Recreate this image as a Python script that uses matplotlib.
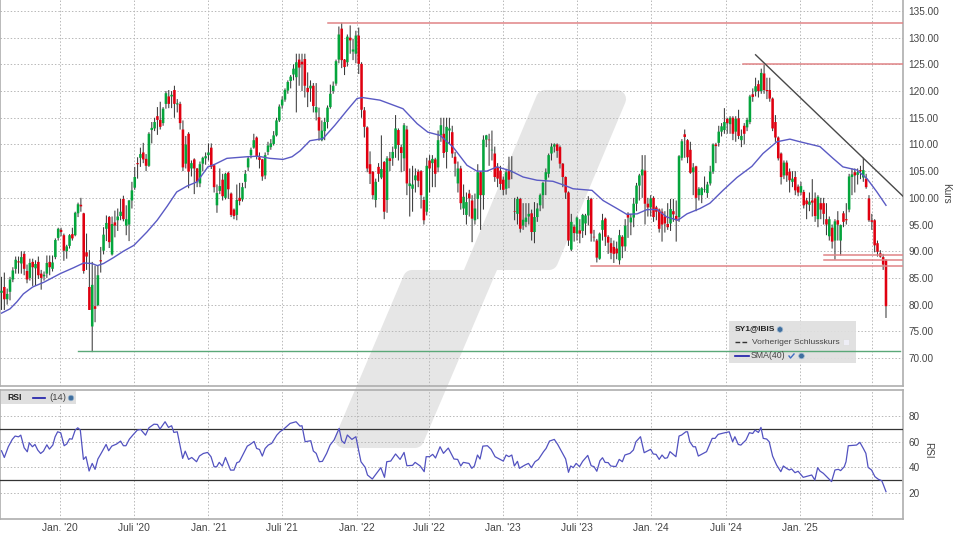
import matplotlib
matplotlib.use('Agg')
import matplotlib.pyplot as plt
from matplotlib.patches import Polygon, Rectangle, Circle

plt.rcParams['font.family'] = ['Liberation Sans', 'DejaVu Sans']

opens = [
 82.2,83.3,81.0,82.4,84.7,86.7,88.1,87.7,89.5,86.3,
 85,88,86.8,88,85.8,85.3,85.8,88,86.7,88.9,
 92.5,94,93,90,91,93.2,93,97.1,98.7,97.1,
 89.8,83.3,75.9,79.7,79.9,88.3,90.1,94.2,96.4,89.4,
 95.4,95.8,96.6,99.8,94.8,95,99.5,101.9,106.5,107.5,
 108.5,107.3,106,112.7,113,115.3,114.6,114,117.6,119,
 119,120.2,117.5,117.6,112.8,106.4,112,105.5,107.2,105.5,
 102.7,106.4,107.4,108,109.4,106.1,98.6,101.3,103.4,100,
 104.7,100.8,97.8,96.8,100,99.7,103,105.7,108,109.4,
 111.3,107.6,107.2,104.2,108.6,109.5,110.1,111.7,114.5,117.3,
 118.4,120.1,121.9,123.1,122.6,125.9,125.5,126,120.6,120.5,
 121,116,115.1,110.8,112.5,114.2,117,120,121.4,125.9,
 131.7,125.9,125.4,130,127.4,127,130.4,125.1,116.4,113.2,
 106.3,104.9,99.6,105.8,103.8,106.7,99.6,107.4,107.4,109.2,
 112.7,109.5,107.4,112.8,102.2,101.7,103.3,104.9,105,99.6,
 97.4,107,106.5,107.2,105.7,111.7,112,108.6,112.6,112.3,
 107.7,102.7,105.5,98,96.8,100.8,99.5,95.8,99.8,104.8,
 100.5,110.9,110.9,108.9,108.3,105.8,105.1,103.4,101.7,105,
 104.8,97.5,97,99.8,94.8,95.5,96.5,97.1,93.6,96.4,
 98.6,100.5,103.4,104.5,108.3,109.6,110,109.5,106.4,103.9,
 101,90.3,94.6,93.3,93.9,93.8,95.2,96.7,99.8,92.7,
 92,88.6,94,96.1,92.7,91.5,90.8,90.5,88.3,92.7,
 90.9,97,95.4,96.3,98.9,102.3,104.2,105.1,98.9,98.2,
 100,98.2,97.8,97.4,96.5,95.1,95.2,97.5,96.6,96.4,
 107.5,111.9,110.8,109,104.8,105.9,100.5,100.5,101.5,100.9,
 102.7,104.9,110,110.3,112.4,112.7,114.8,113.8,115,112.4,
 114.9,110.8,113.5,113.2,114.2,119.4,119.9,121.3,120,123.3,
 120.2,120.2,118.6,114.2,111.3,108.3,104.2,106.6,104.9,103,
 103.9,102.1,101,101.1,99.5,98.7,99.5,99.9,96,99,
 99,96,92.8,94.4,92,95.8,92,97.1,96,97.8,
 103.9,104.8,104.3,105.2,103.8,103.6,99.9,95.8,95.8,91.5,
 89.6,88.9,88.3]

closes = [
 82.6,81,82,84.7,86.4,88.4,87.9,88.9,86.7,84.7,
 87.8,87,87.6,85.5,85,85.6,87.8,87,87.9,92.1,
 94.2,93.6,90.1,90.9,93,92.4,97.2,98.8,98.4,86.3,
 89,79,83.7,79.2,85.5,88.1,93.1,95.3,91.7,95.1,
 94.8,96.5,97.4,96,96,99.5,101.4,103.9,106.3,108.2,
 107.2,106,112,113.1,114.2,114.6,113.3,116.7,119.6,117.6,
 119.3,117.6,117.7,114,105.7,110,104.9,106.5,105.5,103,
 106.3,107.5,107.8,108.5,105.8,102,100.9,102.2,100.3,104.5,
 101.6,96.8,96.6,99.6,99.4,102,104.5,107.4,109,110.8,
 107.7,107.1,104,108,109.8,110.2,111.7,114.5,117.1,118.4,
 120.2,121.7,122.7,124.2,125.4,124.4,125,121,119.8,121,
 117.2,117,112.6,112.6,114.2,116.9,119.5,121,125.6,130.6,
 125.8,124.5,130.2,129.5,127.8,130.4,125.1,116.5,113.3,105.5,
 104.5,100.5,103,104.5,105.4,97.4,107.4,106.9,108.6,113,
 109.9,108.4,113.6,102.7,102.7,102.5,104.2,103.2,100.5,95.8,
 106,105.5,107.3,104.5,110.8,113.6,108.4,113.3,113,108.3,
 106.4,105.5,99,100.2,99.2,99.9,96.1,98,104.8,100.5,
 110.9,111.7,110.8,109,103.9,103.6,102.6,101.5,104.8,103.4,
 105,97.4,99.8,94.2,95.9,96.3,97,93.6,96.4,98,
 100.5,102.8,104.8,108,109.6,110,108.8,106.4,103.9,101,
 92,95.5,93.4,96.3,93.3,96.8,96.7,99.6,93.3,92.6,
 88.8,93.3,95.8,92.7,91.6,89.7,89.5,89.6,93,90.9,
 94.8,96.3,96.3,98.9,102.3,104.2,105.3,98.9,98.2,99.9,
 96.4,97.4,94.2,95,95.2,94.5,97.9,96.9,95.8,107.8,
 110.6,111.4,107.6,104.7,105.7,100,101.7,101.8,101.6,102.5,
 104.9,110,109.7,112.4,113.4,114.2,114,115,112,114.8,
 111.6,111.6,112,114.6,119,118.9,120.9,120,123.4,120.2,
 120,118.6,113,111.3,107.4,103.9,106.6,104.2,103.3,103.6,
 101.4,101,102.2,98.6,98.8,99.3,99.1,96.6,100.2,97.8,
 97,95,96,91.8,95.6,95,94.9,95.5,95.8,104,
 104.4,104.2,104.8,105,105.2,102,95.8,95.5,91.1,89.9,
 89,87.5,79.7]

highs = [
 85.2,86,83,85.2,87,89,89,90,90,87.5,
 88.6,88.6,88.3,89,86.5,86.2,89.2,89.2,89.2,92.4,
 94.4,94.4,93.3,91.2,93.2,94.4,97.4,99.1,100,97.2,
 93.3,90.2,88,87.3,87.3,90.8,94.5,96.7,96.6,96.5,
 97.6,98,99.8,100.4,98.6,99.6,103,105.8,107.6,109.4,
 110.3,108.2,112.3,114.2,115,117,118,117,120,120.2,
 120,121,118.5,118,114.5,111.6,112.3,107,107.4,105.6,
 106.8,107.7,108.5,110.2,110.2,106.3,102.5,105.5,104.5,104.7,
 104.9,101,98,102.5,102.8,102.8,105.2,107.8,109.4,112,
 111.5,108.5,107.3,108.5,110.5,111,112.5,115,117.5,119,
 120.5,122,123,125,127,127,127,127,123.5,122,
 121.5,121.5,116.9,114.5,115,117.3,121.2,121.8,125.9,132.1,
 132.8,126,130.6,132.3,129.8,131.3,131.9,125.4,117,113.4,
 108.7,105,103.6,106.5,111.7,106.9,107.8,108.6,109.6,115.5,
 113,110,114,113.5,105.5,106,105.5,105.3,105.2,100.2,
 107.5,108,108,107.5,112.6,115,115,115,115,113.5,
 108.6,106.8,106,102.5,101,101.5,100.5,100.8,106.3,105,
 111.7,111.8,112,112.6,109.6,106.5,106,104,105.2,107.7,
 107.8,100,100.2,100,99,99,99,97.8,99.2,99,
 100.8,103,105.5,108.3,110.2,110.2,110.2,109.8,106.5,104,
 101.2,97,95,96.5,96,97,97,100.3,100,94,
 92.3,93.5,97,96.3,93,92.5,92,91.8,94,93,
 96,97.3,97,100,102.8,104.5,108,108,100,100.5,
 100.3,98.5,98,98,97.5,99,99.8,99.8,99.5,108,
 111,112.8,111,110.5,106.5,106,102,102,104,103,
 106,110.2,110.3,113.5,114,116.8,115,115.3,115.3,115.3,
 116.5,112.8,114,115,119.3,120.5,122.5,122,124.2,125,
 122.5,122.5,118.8,115.5,111.5,108.5,107,107,105.5,105,
 105,102.5,103,101.5,100,101,103.5,101,100.5,100,
 100,99,96.5,95,96,97.5,95,97.5,99,104.5,
 105.5,105.5,105.5,106,107.5,104.5,100.5,97,96,92,
 90.2,89.5,88.5]

lows = [
 79,79,80,80.8,84.2,85.8,85.8,85.8,85.5,84,
 84.5,83.5,83.5,84.8,82.8,84.5,85,85.5,86.2,88.5,
 92,92.8,88.2,88.6,90.5,92,92.8,96.4,97.4,85.8,
 86.5,79,71.1,76.7,79.7,86,89.4,91.9,90.6,89.2,
 92.6,93.8,95.8,95.6,93,91.9,98,101.5,103.6,105.8,
 106.5,105,105.8,110.2,112.5,111.8,112.8,113.5,116.7,116.8,
 116.8,115,116,112.8,105,105.5,101.8,104,100.7,102,
 102,105,106.2,107,105.4,101,97.2,100.7,99.5,99.7,
 99.8,96.4,96,95.8,98.6,99.3,101.8,105,107.4,109.2,
 107.2,105.5,103.2,103.5,108,109,109.8,111.5,114.2,116.7,
 118,119.5,120.5,122,116,121,120,118.8,117,118,
 116,114.5,110.7,110.6,110.8,113,116.7,119.5,121,125.2,
 124.3,123,124.6,127,125.8,125.2,123.2,115,111.3,104.8,
 102.6,99.7,98.2,103,103.5,96,97.2,105,106,107.5,
 107,104.8,105,100.5,96.5,97.4,101,102,98,95,
 96.7,101,102,102,104.8,110.5,107.5,105.5,110,107.5,
 104,101,97.8,96.8,95,96.5,91.7,95,96,94,
 97.8,109.5,106,107,103,102,101.5,100.5,100.6,101.8,
 103.5,95.8,95,93.5,94,94.5,95,92,91.5,95.5,
 97.5,98,100.5,103.8,107,108.5,107.5,105.5,102,99.8,
 91,90,91.8,92,91.5,92.5,93,94.8,91.8,91.8,
 87.9,88.4,92,91,89.5,88.5,87.8,88.5,87.5,88.7,
 90,92.5,93,94.5,97.5,99.5,100,95,96.5,96.5,
 95.5,95.8,93.5,91.8,93.5,94,93.8,95.5,91.8,95.5,
 107,107.5,106.5,104.5,100.5,97.5,99.5,99,101,100,
 102.3,104.5,106.5,109.6,111.5,112,112,112,110.8,110.5,
 111,109.5,110,112.5,113.8,118,119,118.8,119.5,119.5,
 118.5,118,112.5,110.5,107,102.5,103.5,103,101,102,
 100.5,100.3,100.5,98,96,97.5,96.5,95.5,94.5,96,
 95,93,92,90.5,88.4,92,89.2,94.5,95,97.3,
 100.5,101,102.5,103.5,103,101.7,95.5,94,89.8,89,
 88.8,86.5,77.5]

sma_weeks = [0,3,5.4,7.7,11,15,20.7,25.4,29,31.9,33.8,36,39.5,43,46.7,51.3,54.9,58.4,61.8,65.4,69,72.8,75.3,
 79.5,86.6,90.5,94.7,99.3,102.5,105.3,108.8,113.4,117.6,121.9,125.4,127.2,133.5,141.6,146.6,150.4,154.7,
 159.3,164.2,167.7,171.2,174.8,179.4,184,188.9,194.5,198.8,201.6,208.3,212.2,217.1,220.6,224.2,227.7,
 231.2,234.7,238.6,241.8,246.4,249.9,254.5,259.4,264.7,268.6,273.5,278.1,281.7,288.7,293.3,296.8,301.8,
 305.3,308.8,312]
sma_values = [78.4,79.2,80.5,82,83.3,84.2,85.8,86.9,87.8,87.7,87.3,87.7,88.8,90,91.1,93.6,95.8,98.4,101.1,102.2,
 103,105.8,106.3,107.4,107.7,107.8,107.4,107.2,107.7,108.8,110.7,111.1,113.6,116.4,118.6,118.8,118.3,116.7,
 113.9,112.3,111.7,109.5,106.1,105,105,105.8,105.1,103.9,103.3,103.1,102.3,101.7,101.4,99.5,98,96.9,97,97.8,
 97.8,96.4,95.8,97,98,99,101.4,103.8,105.9,108.3,110.5,111,110.5,109.6,107.4,105.8,105.2,103.6,101.1,98.6]

rsi_weeks = [0,1,2.4,3.8,4.8,6,6.8,8,9.1,9.8,10.9,11.8,12.8,13.8,14.8,16,16.9,18.1,18.9,19.8,20.9,22.1,23,24,24.9,
 26,26.9,27.8,28.9,29.8,30.9,32,33,34,35,36.9,37.8,38.9,40.6,42,43,43.9,45.1,46.5,47.9,49.1,50.8,52,53.8,55,
 55.9,57.7,58.9,60,60.8,62,63.9,64.8,66,67.1,68.8,69.8,71.2,72.7,73.9,75,75.9,76.8,77.9,79,80.8,82,83,83.9,
 86.7,87.7,89.1,90,91,92,93,94.1,95.3,97.1,98.2,99.4,101.8,103.9,105.3,106,107.1,109.1,110,111,112.1,113.2,
 114.7,115.9,117.3,119.1,120,121,122,123.6,125,126.8,128.3,129.1,130.8,133.8,135.1,135.9,137.3,139,140.6,142,
 143,145,145.9,147.7,149.1,149.8,151,152.1,153.1,154.7,155.9,157.6,159.6,160.9,162,162.9,164.9,165.9,166.8,
 167.9,168.8,169.8,171.4,172.7,174.1,177,178,179,180,180.9,182,182.7,184.7,185.9,186.9,188.2,189.4,191.2,
 192.1,193.3,195,196.2,197.6,199,200,200.8,201.7,202.7,203.9,205,206.8,208,209,210,211.1,212,212.9,214,214.9,
 216.7,217.9,219,219.9,221.7,222.9,223.8,225.4,226.7,229,229.9,230.9,232,233,234,234.9,235.8,237.9,239,239.9,
 241.4,242,242.8,244,244.8,245.8,248.7,250.7,251.7,252.8,254.6,256.7,257.9,258.7,259.9,260.8,262.6,263.8,265,
 265.8,267,267.9,268.7,269.9,270.8,272,273.4,274.9,275.8,276.9,277.9,278.7,279.9,281,282.8,285.8,286.9,287.9,
 288.7,289.9,292.8,294,295.2,296,297.3,297.9,298.7,301.6,302.8,304,304.9,305.7,306.9,308.1,309.3,310.5,311.1,312]
rsi_values = [52.9,47.7,56,61.7,64.3,63.7,65,55.2,52.1,59.1,56,57.8,53.4,50.8,52.6,57.5,54.2,57.3,63.7,67.6,66.8,56.8,
 58.1,62.2,61.9,68.9,70.7,68.9,46.2,48.3,37.2,43.1,38.5,46.5,50.3,57.8,52.9,56.5,58.1,60.4,56.8,56.8,61.9,65.5,
 68.9,69.4,65,70.7,73.5,73.3,69.7,75.4,71,72.3,67.1,67.6,47,52.6,46.2,47.7,44.4,48.8,50.8,51.6,48.3,40.5,40.5,
 43.9,41,47.7,37.9,37.9,43.6,44.4,56.5,57.8,60.1,54.7,53.9,48.8,54.7,57.3,58.6,65,67.6,69.4,74.1,75.4,72,72.3,
 59.9,60.7,52.7,50.9,44.4,44.7,50.9,57.3,61.2,70.2,60.7,58.6,65.1,61.7,63.8,44.4,40,34.1,31,39.8,32.3,44.4,44.9,
 50.4,46.2,51.6,41.3,41.6,43.9,41.1,36.7,48.3,48.3,50.1,47.3,56,50.9,55,46.5,46.2,41.1,43.9,43.1,39.3,41.1,49.6,
 46.5,56.5,56.8,54,48.3,44.9,49.6,48.3,49.6,41.1,44.7,39.3,41.9,43.1,39.8,44.4,46.2,52.2,54.7,60.4,61.7,57.8,52.2,
 46.5,36.2,41.1,39.8,43.1,40.6,44.7,49.3,41.3,40.6,37,45.2,47.5,43.9,43.7,41.1,40.6,46.2,44.4,49.6,50.9,53.5,59.9,
 63.8,51.4,54,50.4,50.1,46.2,49.6,47,47.5,52.2,48.3,64.3,65.1,67.6,67.6,59.9,56,56,48.8,52.2,62.5,62.5,65.6,66.6,
 67.6,59.9,63.8,57.8,57.3,61.2,66.9,66.3,68.9,67.1,71,62.5,62,59.9,48.8,41.9,36.7,41.1,39.3,38,38.8,35.9,37,32.3,
 34.1,30.2,39.8,37.2,35.4,29,38,38.5,37.5,40.6,44.4,56.8,57.3,59.4,54.7,50.9,40,38,32.8,30.8,29.7,26.4,21.2]

tick_weeks = [20.7,46.6,73,98.8,125.3,150.9,177,203.1,229.2,255.5,281.7,307.2]
tick_labels = ["Jan. '20","Juli '20","Jan. '21","Juli '21","Jan. '22","Juli '22","Jan. '23","Juli '23",
               "Jan. '24","Juli '24","Jan. '25",""]
price_ticks = [70,75,80,85,90,95,100,105,110,115,120,125,130,135]
rsi_ticks = [20,40,60,80]

level_values = [132.8,125,87.2,89.2,88.4]
level_starts = [115.2,261.5,207.8,290.2,290.2]
floor_value = 71.25
floor_start = 27
trend_weeks = [266,318]
trend_values = [126.8,100.3]

fig = plt.figure(figsize=(9.6,5.4),dpi=100,facecolor='white')
W,H = 960.,540.
def box(l,t,r,b):
    return [l/W,1-b/H,(r-l)/W,(b-t)/H]

bg = fig.add_axes([0,0,1,1],zorder=0); bg.set_xlim(0,W); bg.set_ylim(H,0); bg.axis('off')
wm_x = [545,617,549,491,415,344,412,470]
wm_y = [99,99,261,261,439,439,279,279]
bg.add_patch(Polygon(list(zip(wm_x,wm_y)),closed=True,fc='#e6e6e6',ec='#e6e6e6',lw=13,joinstyle='round'))

ov = fig.add_axes([0,0,1,1],zorder=3); ov.set_xlim(0,W); ov.set_ylim(H,0); ov.axis('off'); ov.patch.set_alpha(0)

x0,x1 = -0.53,318
fc = '#aeaeae'
def style(ax):
    ax.patch.set_alpha(0)
    ax.set_xlim(x0,x1)
    ax.set_axisbelow(True)
    ax.grid(True,color='#b8b8b8',lw=0.7,ls=(0,(1.5,2)))
    ax.yaxis.tick_right()
    ax.set_xticks(tick_weeks)
    for s in ['left','right','top','bottom']:
        ax.spines[s].set_color(fc); ax.spines[s].set_linewidth(1.2)
    ax.tick_params(axis='both',length=0,colors='#444444',pad=3)
    ax.tick_params(axis='y',labelsize=7.2,pad=4)
    ax.tick_params(axis='x',labelsize=7.4)

ax = fig.add_axes(box(0,-1,903,386),zorder=1)
style(ax)
ax.set_ylim(64.75,137.25)
ax.set_yticks(price_ticks)
ax.set_yticklabels([f'{v:.2f}' for v in price_ticks])
ax.set_xticklabels([])

ax.add_patch(Rectangle((729,321),127,42,transform=ov.transData,fc='#dfdfdf',ec='none',alpha=0.92,zorder=3))

weeks = list(range(len(closes)))
w = ax.vlines(weeks,lows,highs,color='#3a3a3a',lw=0.75,zorder=4)
w.set_snap(False)
up = [c>=o for o,c in zip(opens,closes)]
for flag,col in [(True,'#04a53c'),(False,'#e00010')]:
    xs = [i for i in weeks if up[i]==flag]
    bot = [min(opens[i],closes[i]) for i in xs]
    ht = [abs(opens[i]-closes[i]) for i in xs]
    bars = ax.bar(xs,ht,bottom=bot,width=0.9,color=col,lw=0,zorder=5)
    for p in bars:
        p.set_snap(False)
ax.plot(sma_weeks,sma_values,color='#5a5ac4',lw=1.0,zorder=6)
for v,s in zip(level_values,level_starts):
    ax.plot([s,x1],[v,v],color='#e08486',lw=1.1,zorder=7)
ax.plot([floor_start,317],[floor_value,floor_value],color='#5aa878',lw=1.0,zorder=7)
ax.plot(trend_weeks,trend_values,color='#484848',lw=1.0,zorder=7)

rx = fig.add_axes(box(0,390,903,519),zorder=2)
style(rx)
rx.set_ylim(0,100)
rx.set_yticks(rsi_ticks)
rx.set_xticklabels(tick_labels)
rx.plot([x0,317.5],[70,70],color='#333333',lw=0.9,zorder=3)
rx.plot([x0,317.2],[30,30],color='#333333',lw=0.9,zorder=3)
rx.plot(rsi_weeks,rsi_values,color='#5252c0',lw=0.9,zorder=4)

txt = dict(color='#444444',fontsize=7.2,va='center')
ov.text(946,193,'Kurs',rotation=-90,ha='center',**txt)
ov.text(928,450,'RSI',rotation=-90,ha='center',**txt)

def globe(x,y):
    ov.add_patch(Circle((x,y),2.8,fc='#3f6f9f',ec='#9fb8d0',lw=0.5))

ov.text(734.5,329,'SY1@IBIS',fontweight='bold',color='#222222',fontsize=6.0,va='center')
globe(780,329.5)
ov.plot([735,748],[341.5,341.5],color='#333333',lw=1,ls=(0,(3.4,1.6)))
ov.text(752,342,'Vorheriger Schlusskurs',color='#444444',fontsize=6.1,va='center')
ov.add_patch(Rectangle((843,339),6,6,fc='#eeeef6',ec='#dddddd',lw=0.5))
ov.plot([735,749],[355.5,355.5],color='#1a1aa8',lw=1.2)
ov.text(751,356,'SMA(40)',color='#444444',fontsize=6.3,va='center')
ov.plot([789,790.5,794],[356,358,354],color='#3f6fc0',lw=1)
globe(801.5,356)

ov.add_patch(Rectangle((1,391),75,12.5,fc='#dfdfdf',ec='none'))
ov.text(7,398,'RSI',fontweight='bold',color='#222222',fontsize=6.2,va='center')
ov.plot([33,45],[397.5,397.5],color='#1a1aa8',lw=1.2)
ov.text(49,398,'(14)',color='#444444',fontsize=6.8,va='center')
globe(71,398)

fig.savefig('out.png',dpi=100)
